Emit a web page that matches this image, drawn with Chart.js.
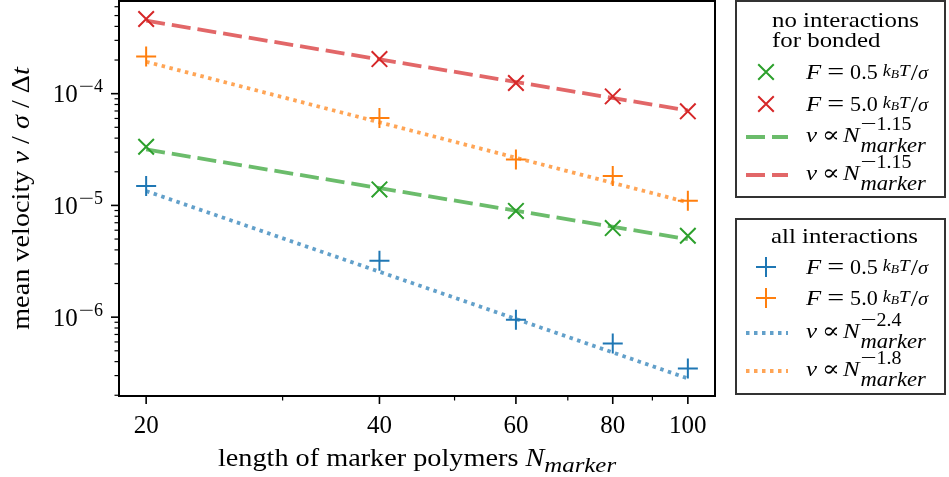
<!DOCTYPE html>
<html>
<head>
<meta charset="utf-8">
<script src="https://cdn.jsdelivr.net/npm/chart.js@4.4.1/dist/chart.umd.min.js"></script>
<style>
  html, body { margin: 0; padding: 0; background: #fff; }
  canvas { display: block; }
</style>
</head>
<body>
<canvas id="c" width="949" height="477"></canvas>
<script>
const nMarker = [20, 40, 60, 80, 100];
const vAllF05 = [1.49e-5, 3.2e-6, 9.5e-7, 5.8e-7, 3.47e-7];
const vAllF50 = [2.15e-4, 6.07e-5, 2.58e-5, 1.83e-5, 1.10e-5];
const vNoBondF05 = [3.35e-5, 1.39e-5, 8.93e-6, 6.27e-6, 5.35e-6];
const vNoBondF50 = [4.66e-4, 2.04e-4, 1.245e-4, 9.46e-5, 6.95e-5];

// power law fits, end points at N = 20 and N = 100
const fitN = [20, 100];
const fitAllF05 = [1.345e-5, 2.83e-7];
const fitAllF50 = [1.93e-4, 1.065e-5];
const fitNoBondF05 = [3.17e-5, 4.98e-6];
const fitNoBondF50 = [4.5e-4, 7.07e-5];

const xMajor = [20, 40, 60, 80, 100];
const xMinor = [30, 50, 70, 90];
const yMajor = [1e-6, 1e-5, 1e-4];
const yMajorExp = ['6', '5', '4'];

const blue = '#1f77b4', orange = '#ff7f0e', green = '#2ca02c', red = '#d62728';
const fade = (hex, a) => {
    const n = parseInt(hex.slice(1), 16);
    return `rgba(${n >> 16}, ${(n >> 8) & 255}, ${n & 255}, ${a})`;
};
const DASH = [19, 7];
const DOT = [3.5, 4.5];
const FONT = '"Liberation Serif", "DejaVu Serif", serif';
const SX = 1.13; // stretch letters a bit, CM is wider than Times

const pts = (xs, ys) => xs.map((x, i) => ({ x: x, y: ys[i] }));

function markerSet(ys, color, style) {
    return {
        data: pts(nMarker, ys), showLine: false, order: 0,
        pointStyle: style, pointRadius: style === 'cross' ? 10 : 11,
        pointBorderColor: color, pointBackgroundColor: color, pointBorderWidth: 2,
        pointHoverRadius: 0
    };
}
function fitSet(ys, color, dash) {
    return {
        data: pts(fitN, ys), showLine: true, order: 1,
        borderColor: fade(color, 0.7), borderWidth: 3.8, borderDash: dash,
        borderCapStyle: 'butt', pointRadius: 0, fill: false
    };
}

function font(size, italic) {
    return (italic ? 'italic ' : '') + size + 'px ' + FONT;
}

// parts: {t, s, i, dy, sx, gap}
function layoutRich(ctx, parts, draw, x0, y) {
    let x = x0;
    parts.forEach(p => {
        if (p.gap) { x += p.gap; return; }
        const sx = p.sx || SX;
        ctx.font = font(p.s, p.i);
        if (draw) {
            ctx.save();
            ctx.translate(x, y + (p.dy || 0));
            ctx.scale(sx, 1);
            ctx.fillText(p.t, 0, 0);
            ctx.restore();
        }
        x += ctx.measureText(p.t).width * sx;
    });
    return x - x0;
}
const richWidth = (ctx, parts) => layoutRich(ctx, parts, false, 0, 0);
function drawRich(ctx, x0, y, parts) {
    ctx.textBaseline = 'alphabetic';
    ctx.textAlign = 'left';
    return layoutRich(ctx, parts, true, x0, y);
}

const LS = 22;
function forceParts(val) {
    return [
        { t: 'F', s: LS, i: true }, { gap: 6 }, { t: '=', s: 24, sx: 1.25 }, { gap: 6 },
        { t: val, s: 21, sx: 1.05 }, { gap: 5 },
        { t: 'k', s: 16, i: true, dy: -3 }, { t: 'B', s: 12, i: true, dy: -1 },
        { t: 'T', s: 17, i: true, dy: -3 }, { gap: 1 }, { t: '/', s: 23, dy: 1 },
        { t: 'σ', s: 18, i: true, dy: 0 }
    ];
}
// head, superscript and subscript of a power law label
function lawParts(exp) {
    return {
        head: [{ t: 'v', s: LS, i: true }, { gap: 5 }, { t: '∝', s: 22, sx: 1.2 }, { gap: 3 },
            { t: 'N', s: LS, i: true }, { gap: 1 }],
        sup: [{ t: '−', s: 19, sx: 1.5, dy: -12 }, { t: exp, s: 19, sx: 1.05, dy: -12 }],
        sub: [{ t: 'marker', s: 20, i: true, dy: 10 }]
    };
}

function drawMarker(ctx, style, x, y) {
    Chart.helpers.drawPoint(ctx, {
        pointStyle: style, radius: style === 'cross' ? 10 : 11, borderWidth: 2
    }, x, y);
}

const legends = [
    {
        box: [736, 1, 209, 196], titleX: 772, title: [['no interactions', 27], ['for bonded', 47]],
        rows: [
            { kind: 'marker', style: 'crossRot', color: green, y: 72, text: forceParts('0.5') },
            { kind: 'marker', style: 'crossRot', color: red, y: 104, text: forceParts('5.0') },
            { kind: 'line', dash: DASH, color: green, y: 137, text: lawParts('1.15') },
            { kind: 'line', dash: DASH, color: red, y: 175, text: lawParts('1.15') }
        ]
    },
    {
        box: [736, 219, 209, 175], titleX: 771, title: [['all interactions', 243]],
        rows: [
            { kind: 'marker', style: 'cross', color: blue, y: 267, text: forceParts('0.5') },
            { kind: 'marker', style: 'cross', color: orange, y: 298, text: forceParts('5.0') },
            { kind: 'line', dash: DOT, color: blue, y: 333, text: lawParts('2.4') },
            { kind: 'line', dash: DOT, color: orange, y: 371, text: lawParts('1.8') }
        ]
    }
];

const decor = {
    id: 'decor',
    afterDraw(chart) {
        const ctx = chart.ctx, a = chart.chartArea;
        const xs = chart.scales.x, ys = chart.scales.y;
        ctx.save();
        ctx.fillStyle = '#000';
        ctx.strokeStyle = '#000';

        // ticks, outward
        xs.ticks.forEach(t => {
            const px = xs.getPixelForValue(t.value);
            ctx.lineWidth = t.major ? 1.6 : 1.2;
            ctx.beginPath();
            ctx.moveTo(px, a.bottom);
            ctx.lineTo(px, a.bottom + (t.major ? 8 : 4.5));
            ctx.stroke();
        });
        ys.ticks.forEach(t => {
            const py = ys.getPixelForValue(t.value);
            ctx.lineWidth = t.major ? 1.6 : 1.2;
            ctx.beginPath();
            ctx.moveTo(a.left, py);
            ctx.lineTo(a.left - (t.major ? 8 : 4.5), py);
            ctx.stroke();
        });

        // frame
        ctx.lineWidth = 2;
        ctx.strokeRect(a.left, a.top, a.right - a.left, a.bottom - a.top);

        // x tick labels
        ctx.font = font(25);
        ctx.textAlign = 'center';
        ctx.textBaseline = 'alphabetic';
        xMajor.forEach(v => ctx.fillText(String(v), xs.getPixelForValue(v), a.bottom + 37));

        // y tick labels 10^n
        yMajor.forEach((v, i) => {
            const py = ys.getPixelForValue(v);
            const parts = [{ t: '10', s: 25, sx: 1 }, { gap: 1 }, { t: '−', s: 18, sx: 1.5, dy: -10 },
                { t: yMajorExp[i], s: 18, sx: 1, dy: -10 }];
            const w = richWidth(ctx, parts);
            drawRich(ctx, 103 - w, py + 8.5, parts);
        });

        // axis titles
        const xt = [{ t: 'length of marker polymers ', s: 25 }, { t: 'N', s: 25, i: true },
            { t: 'marker', s: 22, i: true, dy: 6 }];
        const xw = richWidth(ctx, xt);
        drawRich(ctx, (a.left + a.right) / 2 - xw / 2, 466, xt);

        const yt = [{ t: 'mean velocity ', s: 25 }, { t: 'v', s: 25, i: true }, { t: ' / ', s: 25 },
            { t: 'σ', s: 25, i: true }, { t: ' / ', s: 25 }, { t: 'Δ', s: 25 }, { t: 't', s: 25, i: true }];
        const yw = richWidth(ctx, yt);
        ctx.save();
        ctx.translate(29, (a.top + a.bottom) / 2);
        ctx.rotate(-Math.PI / 2);
        drawRich(ctx, -yw / 2, 0, yt);
        ctx.restore();

        // legends
        legends.forEach(lg => {
            const [bx, by, bw, bh] = lg.box;
            ctx.fillStyle = '#fff';
            ctx.fillRect(bx, by, bw, bh);
            ctx.strokeStyle = 'rgba(0,0,0,0.8)';
            ctx.lineWidth = 2;
            ctx.strokeRect(bx, by, bw, bh);
            ctx.fillStyle = '#000';
            lg.title.forEach(([t, y]) => drawRich(ctx, lg.titleX, y, [{ t: t, s: LS }]));
            lg.rows.forEach(r => {
                if (r.kind === 'marker') {
                    ctx.strokeStyle = r.color;
                    ctx.fillStyle = r.color;
                    drawMarker(ctx, r.style, 766, r.y);
                    ctx.fillStyle = '#000';
                    drawRich(ctx, 806, r.y + 7, r.text);
                } else {
                    ctx.save();
                    ctx.strokeStyle = fade(r.color, 0.7);
                    ctx.lineWidth = 3.8;
                    ctx.lineCap = 'butt';
                    ctx.setLineDash(r.dash);
                    ctx.beginPath();
                    ctx.moveTo(746, r.y);
                    ctx.lineTo(788, r.y);
                    ctx.stroke();
                    ctx.restore();
                    ctx.fillStyle = '#000';
                    const hw = drawRich(ctx, 806, r.y + 5, r.text.head);
                    drawRich(ctx, 806 + hw, r.y + 5, r.text.sup);
                    drawRich(ctx, 806 + hw, r.y + 5, r.text.sub);
                }
            });
        });
        ctx.restore();
    }
};

function setTicks(major, minor) {
    return scale => {
        scale.ticks = major.map(v => ({ value: v, major: true }))
            .concat(minor.map(v => ({ value: v, major: false })));
    };
}
const yMinor = [];
[1e-7, 1e-6, 1e-5, 1e-4].forEach(d => {
    for (let k = 2; k <= 9; k++) {
        const v = k * d;
        if (v > 1.97e-7 && v < 6.75e-4) yMinor.push(v);
    }
});

new Chart(document.getElementById('c'), {
    type: 'scatter',
    data: {
        datasets: [
            markerSet(vNoBondF50, red, 'crossRot'),
            markerSet(vAllF50, orange, 'cross'),
            markerSet(vNoBondF05, green, 'crossRot'),
            markerSet(vAllF05, blue, 'cross'),
            fitSet(fitNoBondF50, red, DASH),
            fitSet(fitNoBondF05, green, DASH),
            fitSet(fitAllF50, orange, DOT),
            fitSet(fitAllF05, blue, DOT)
        ]
    },
    options: {
        responsive: false,
        animation: false,
        devicePixelRatio: 1,
        layout: { autoPadding: false, padding: { top: 1, right: 234, left: 0, bottom: 0 } },
        plugins: { legend: { display: false }, tooltip: { enabled: false } },
        scales: {
            x: {
                type: 'logarithmic', min: 18.45, max: 108.4,
                grid: { display: false }, border: { display: false },
                ticks: { display: false },
                afterBuildTicks: setTicks(xMajor, xMinor),
                afterFit: s => { s.height = 81; }
            },
            y: {
                type: 'logarithmic', min: 1.97e-7, max: 6.75e-4,
                grid: { display: false }, border: { display: false },
                ticks: { display: false },
                afterBuildTicks: setTicks(yMajor, yMinor),
                afterFit: s => { s.width = 119; }
            }
        }
    },
    plugins: [decor]
});
</script>
</body>
</html>
